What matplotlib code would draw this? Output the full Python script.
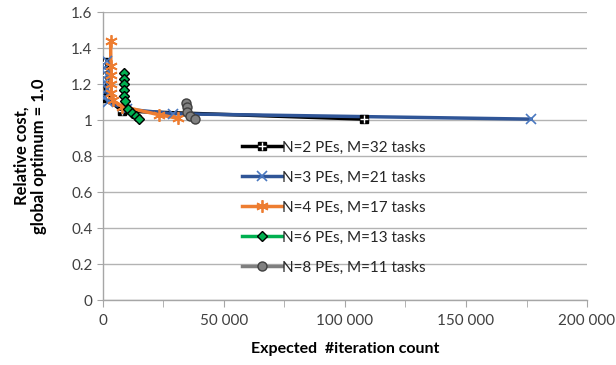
import matplotlib
matplotlib.use("Agg")
import matplotlib.pyplot as plt
from matplotlib.lines import Line2D
from matplotlib.ticker import FuncFormatter, MultipleLocator
from matplotlib.legend_handler import HandlerTuple

plt.rcParams['font.family'] = ['Lato', 'DejaVu Sans']

# Expected iteration count vs. relative cost per configuration
n2_x = [300, 400, 500, 600, 1500, 8000, 108000]
n2_y = [1.32, 1.28, 1.25, 1.22, 1.12, 1.05, 1.005]

n3_x = [1500, 800, 1800, 800, 1800, 1000, 2000, 10000, 29000, 177000]
n3_y = [1.33, 1.29, 1.25, 1.21, 1.17, 1.13, 1.10, 1.06, 1.035, 1.005]

n4_x = [3200, 3300, 3300, 3400, 3500, 4000, 8000, 23000, 31000]
n4_y = [1.44, 1.30, 1.25, 1.20, 1.15, 1.11, 1.075, 1.03, 1.01]

n6_x = [8800, 8800, 8800, 8800, 8800, 9000, 10200, 11850, 13500, 15000]
n6_y = [1.26, 1.23, 1.20, 1.167, 1.135, 1.105, 1.06, 1.037, 1.022, 1.004]

n8_x = [34200, 34600, 34600, 35900, 38000]
n8_y = [1.096, 1.07, 1.046, 1.022, 1.004]

labels = ["N=2 PEs, M=32 tasks", "N=3 PEs, M=21 tasks", "N=4 PEs, M=17 tasks",
          "N=6 PEs, M=13 tasks", "N=8 PEs, M=11 tasks"]

fig = plt.figure(figsize=(6.16, 3.65), dpi=100)
ax = fig.add_axes([0.167, 0.178, 0.786, 0.789])

styles = [
    dict(color="#000000", marker="s", ms=6, mfc="#000000", mec="#000000", mew=1.0),
    dict(color="#2f5597", marker="x", ms=7, mfc="none", mec="#4a78c0", mew=1.2),
    dict(color="#ed7d31", marker=(6, 2, 0), ms=9, mfc="#ed7d31", mec="#ed7d31", mew=1.3),
    dict(color="#00b050", marker="D", ms=5.5, mfc="#00b050", mec="#000000", mew=1.0),
    dict(color="#7f7f7f", marker="o", ms=6.5, mfc="#808080", mec="#404040", mew=1.0),
]
series = [(n2_x, n2_y), (n3_x, n3_y), (n4_x, n4_y), (n6_x, n6_y), (n8_x, n8_y)]

handles = []
for i, ((xs, ys), st) in enumerate(zip(series, styles)):
    ax.plot(xs, ys, color=st["color"], lw=2.5, zorder=3 + i * 0.1, solid_capstyle="round")
for i, ((xs, ys), st) in enumerate(zip(series, styles)):
    ax.plot(xs, ys, ls="none", marker=st["marker"], ms=st["ms"], mfc=st["mfc"],
            mec=st["mec"], mew=st["mew"], zorder=5 + i * 0.1)
    h = Line2D([], [], color=st["color"], lw=2.5, marker=st["marker"], ms=st["ms"],
               mfc=st["mfc"], mec=st["mec"], mew=st["mew"])
    if i == 0:
        # white cross inside the square marker
        ax.plot(xs, ys, ls="none", marker="+", ms=6, mec="white", mew=1.0, zorder=5.05)
        cross = Line2D([], [], ls="none", marker="+", ms=6, mec="white", mew=1.0)
        h = (h, cross)
    handles.append(h)

ax.set_xlim(0, 200000)
ax.set_ylim(0, 1.6)
ax.xaxis.set_major_locator(MultipleLocator(50000))
ax.xaxis.set_minor_locator(MultipleLocator(25000))
ax.yaxis.set_major_locator(MultipleLocator(0.2))
ax.xaxis.set_major_formatter(FuncFormatter(lambda v, p: f"{int(round(v)):,}".replace(",", " ")))
ax.yaxis.set_major_formatter(FuncFormatter(lambda v, p: f"{round(v, 1):g}"))

ax.grid(axis="y", color="#b3b3b3", lw=1.0, zorder=0)
for s in ["top", "right"]:
    ax.spines[s].set_visible(False)
for s in ["left", "bottom"]:
    ax.spines[s].set_color("#a6a6a6")
    ax.spines[s].set_linewidth(1.0)
ax.tick_params(axis="both", which="both", color="#a6a6a6", labelsize=11, labelcolor="#404040")
ax.tick_params(axis="x", which="both", length=5, direction="out", pad=5)
ax.tick_params(axis="y", length=4, direction="out")

ax.set_xlabel("Expected  #iteration count", fontsize=11.5, fontweight="bold", labelpad=10)
ax.set_ylabel("Relative cost,\nglobal optimum = 1.0", fontsize=12, fontweight="bold",
              labelpad=17, linespacing=1.15)

leg = ax.legend(handles, labels, loc="upper left", bbox_to_anchor=(0.275, 0.575),
                frameon=False, fontsize=11, handlelength=2.6, handletextpad=0.0,
                labelspacing=1.05, borderaxespad=0,
                handler_map={tuple: HandlerTuple(ndivide=1, pad=0)})
for t in leg.get_texts():
    t.set_color("#262626")

fig.savefig("out.png", dpi=100)
